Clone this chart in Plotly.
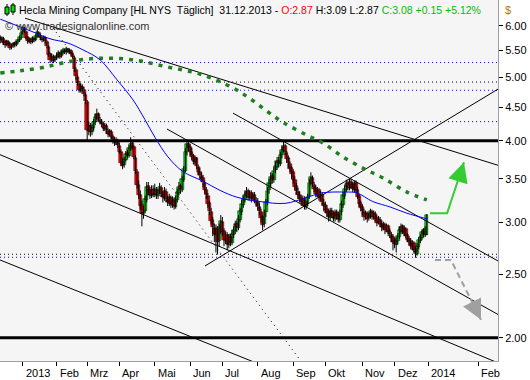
import numpy as np
import pandas as pd
import plotly.graph_objects as go

# ---------------- data ----------------
# daily candles: 11 Dec 2012 .. 31 Dec 2013 (one line per month)
opens = [
 5.75,5.71,5.73,5.66,5.61,5.67,5.63,5.56,5.59,5.64,5.61,5.67,5.71,5.75,
 5.86,5.94,5.87,5.76,5.67,5.71,5.67,5.73,5.71,5.77,5.85,5.79,5.73,5.70,5.75,5.67,5.57,5.43,5.33,5.37,5.31,
 5.36,5.39,5.44,5.39,5.45,5.49,5.46,5.51,5.47,5.49,5.43,5.36,5.14,5.00,4.89,4.77,4.84,4.79,4.70,
 4.58,4.14,4.21,4.13,4.19,4.27,4.34,4.39,4.31,4.27,4.24,4.17,4.21,4.14,4.09,4.13,4.05,4.01,3.97,3.99,
 3.93,3.84,3.71,3.67,3.74,3.83,3.79,3.89,3.97,3.91,3.77,3.58,3.43,3.31,3.19,3.09,3.13,3.25,3.41,3.36,3.29,3.37,
 3.31,3.37,3.29,3.35,3.39,3.31,3.27,3.34,3.25,3.21,3.27,3.19,3.24,3.17,3.25,3.33,3.41,3.37,3.49,3.60,3.84,3.96,
 3.91,3.84,3.79,3.71,3.76,3.65,3.59,3.54,3.51,3.45,3.37,3.29,3.21,3.11,3.03,2.94,2.87,2.93,2.81,2.94,
 3.01,2.91,2.81,2.87,2.77,2.85,2.79,2.87,2.91,2.99,2.94,3.03,3.11,3.19,3.25,3.31,3.35,3.27,3.33,3.26,3.31,3.24,
 3.23,3.17,3.11,3.06,2.98,3.11,3.23,3.36,3.44,3.53,3.49,3.61,3.65,3.73,3.69,3.81,3.87,3.93,3.83,3.76,3.69,3.63,
 3.58,3.49,3.41,3.34,3.31,3.27,3.21,3.26,3.17,3.21,3.29,3.46,3.51,3.43,3.39,3.31,3.36,3.27,3.31,3.21,
 3.19,3.15,3.11,3.05,3.13,3.09,3.04,3.11,3.08,3.03,3.11,3.19,3.29,3.37,3.45,3.39,3.46,3.43,3.37,3.45,3.37,3.29,3.21,
 3.17,3.11,3.07,3.09,3.05,3.07,3.11,3.07,3.09,3.05,3.01,3.03,2.99,2.94,2.97,2.93,2.96,2.91,2.87,2.85,
 2.81,2.77,2.81,2.85,2.91,2.96,2.89,2.93,2.87,2.83,2.81,2.75,2.79,2.73,2.69,2.75,2.81,2.84,2.91,2.87,2.87,
]
highs = [
 5.80,5.78,5.77,5.70,5.71,5.70,5.66,5.62,5.66,5.67,5.69,5.73,5.80,5.88,
 6.00,5.98,5.90,5.79,5.76,5.74,5.78,5.76,5.82,5.92,5.88,5.82,5.76,5.80,5.78,5.70,5.60,5.46,5.44,5.42,5.40,
 5.46,5.50,5.47,5.50,5.55,5.54,5.57,5.55,5.54,5.52,5.46,5.40,5.18,5.05,4.94,4.90,4.88,4.84,4.74,
 4.62,4.28,4.26,4.24,4.32,4.40,4.48,4.42,4.35,4.32,4.28,4.26,4.25,4.18,4.17,4.16,4.09,4.05,4.05,4.03,
 3.98,3.88,3.76,3.78,3.86,3.88,3.94,4.05,4.00,3.94,3.80,3.62,3.48,3.36,3.24,3.18,3.30,3.46,3.46,3.40,3.42,3.42,
 3.44,3.40,3.38,3.45,3.42,3.35,3.40,3.38,3.30,3.32,3.30,3.29,3.28,3.30,3.38,3.46,3.44,3.54,3.66,3.90,4.02,4.00,
 3.96,3.90,3.82,3.80,3.78,3.68,3.64,3.58,3.55,3.48,3.40,3.33,3.24,3.16,3.06,2.99,2.98,2.96,2.99,3.08,
 3.06,2.94,2.90,2.90,2.88,2.88,2.92,2.96,3.02,3.02,3.08,3.16,3.25,3.30,3.36,3.40,3.38,3.36,3.36,3.34,3.34,3.28,
 3.27,3.22,3.15,3.08,3.14,3.26,3.40,3.50,3.58,3.57,3.65,3.72,3.78,3.78,3.85,3.94,4.01,3.96,3.86,3.80,3.72,3.66,
 3.62,3.53,3.45,3.39,3.35,3.31,3.30,3.29,3.24,3.32,3.50,3.58,3.54,3.46,3.42,3.40,3.39,3.35,3.34,3.26,
 3.23,3.19,3.14,3.16,3.16,3.12,3.14,3.14,3.12,3.14,3.24,3.34,3.42,3.49,3.48,3.50,3.50,3.46,3.48,3.48,3.40,3.32,3.24,
 3.20,3.15,3.13,3.12,3.11,3.15,3.14,3.13,3.12,3.08,3.07,3.06,3.02,3.01,3.00,2.99,2.98,2.94,2.90,2.88,
 2.84,2.85,2.89,2.96,2.99,2.98,2.97,2.95,2.89,2.86,2.84,2.82,2.81,2.76,2.79,2.85,2.88,2.93,2.94,2.96,3.09,
]
lows = [
 5.64,5.66,5.61,5.55,5.58,5.58,5.51,5.52,5.55,5.56,5.58,5.63,5.67,5.71,
 5.82,5.84,5.72,5.63,5.64,5.62,5.64,5.66,5.68,5.75,5.76,5.70,5.66,5.67,5.64,5.54,5.38,5.26,5.28,5.26,5.28,
 5.32,5.35,5.34,5.36,5.42,5.43,5.42,5.45,5.44,5.40,5.34,5.10,4.96,4.86,4.74,4.74,4.76,4.68,4.55,
 4.00,4.08,4.06,4.08,4.15,4.23,4.30,4.28,4.24,4.20,4.14,4.14,4.10,4.05,4.06,4.02,3.96,3.93,3.94,3.90,
 3.82,3.66,3.62,3.64,3.72,3.76,3.77,3.86,3.88,3.75,3.56,3.38,3.26,3.14,2.96,3.04,3.10,3.22,3.30,3.26,3.27,3.28,
 3.28,3.26,3.26,3.32,3.28,3.22,3.24,3.22,3.18,3.18,3.16,3.16,3.14,3.15,3.22,3.30,3.32,3.34,3.46,3.58,3.80,3.86,
 3.80,3.74,3.68,3.68,3.62,3.54,3.50,3.46,3.40,3.32,3.26,3.16,3.08,2.98,2.86,2.80,2.70,2.68,2.76,2.88,
 2.86,2.76,2.78,2.72,2.74,2.76,2.77,2.84,2.88,2.90,2.92,3.00,3.08,3.16,3.22,3.27,3.24,3.24,3.22,3.24,3.21,3.17,
 3.13,3.08,3.00,2.92,2.95,3.06,3.19,3.32,3.40,3.44,3.45,3.57,3.61,3.64,3.66,3.76,3.84,3.80,3.70,3.64,3.58,3.50,
 3.44,3.36,3.31,3.26,3.22,3.18,3.18,3.14,3.14,3.18,3.26,3.42,3.40,3.34,3.28,3.28,3.24,3.24,3.19,3.12,
 3.10,3.06,3.01,3.02,3.05,3.01,3.01,3.03,3.00,3.00,3.08,3.16,3.26,3.34,3.36,3.36,3.38,3.34,3.34,3.33,3.26,3.17,3.12,
 3.08,3.02,3.03,3.00,3.02,3.04,3.03,3.03,3.01,2.96,2.98,2.95,2.91,2.92,2.88,2.90,2.86,2.84,2.80,2.72,
 2.74,2.70,2.78,2.83,2.88,2.88,2.86,2.84,2.80,2.77,2.73,2.72,2.69,2.65,2.67,2.73,2.79,2.82,2.85,2.85,2.87,
]
closes = [
 5.70,5.74,5.65,5.60,5.68,5.62,5.55,5.58,5.63,5.60,5.66,5.70,5.76,5.84,
 5.95,5.88,5.75,5.68,5.72,5.66,5.74,5.70,5.78,5.86,5.80,5.74,5.70,5.76,5.68,5.58,5.42,5.32,5.38,5.30,5.35,
 5.40,5.45,5.38,5.46,5.50,5.47,5.52,5.48,5.50,5.44,5.38,5.15,5.02,4.90,4.78,4.85,4.80,4.72,4.60,
 4.15,4.22,4.12,4.20,4.28,4.35,4.40,4.32,4.28,4.25,4.18,4.22,4.15,4.10,4.14,4.06,4.02,3.98,4.00,3.94,
 3.85,3.70,3.66,3.75,3.82,3.80,3.90,3.96,3.92,3.78,3.60,3.42,3.30,3.18,3.10,3.14,3.26,3.40,3.35,3.30,3.36,3.32,
 3.38,3.30,3.34,3.40,3.32,3.28,3.35,3.26,3.22,3.28,3.20,3.25,3.18,3.26,3.34,3.40,3.38,3.50,3.62,3.85,3.95,3.90,
 3.85,3.78,3.72,3.75,3.66,3.58,3.55,3.50,3.46,3.36,3.30,3.20,3.12,3.02,2.95,2.88,2.92,2.80,2.95,3.02,
 2.90,2.82,2.86,2.78,2.84,2.80,2.88,2.92,2.98,2.95,3.04,3.12,3.20,3.26,3.30,3.34,3.28,3.32,3.27,3.30,3.25,3.22,
 3.18,3.12,3.05,2.97,3.10,3.22,3.35,3.45,3.52,3.50,3.60,3.66,3.72,3.70,3.80,3.88,3.92,3.84,3.75,3.70,3.62,3.56,
 3.48,3.40,3.35,3.30,3.26,3.22,3.25,3.18,3.20,3.28,3.45,3.52,3.44,3.38,3.32,3.35,3.28,3.30,3.22,3.18,
 3.14,3.10,3.06,3.12,3.08,3.05,3.10,3.07,3.04,3.10,3.20,3.30,3.38,3.44,3.40,3.45,3.42,3.38,3.44,3.36,3.28,3.20,3.16,
 3.12,3.06,3.10,3.04,3.08,3.12,3.06,3.10,3.04,3.00,3.04,2.98,2.95,2.98,2.92,2.95,2.90,2.88,2.84,2.80,
 2.78,2.82,2.86,2.92,2.95,2.90,2.94,2.86,2.82,2.80,2.76,2.78,2.72,2.70,2.76,2.82,2.85,2.90,2.88,2.93,3.08,
]

# moving averages (bar index, price)
ma200_x = [-14, -1.7, 12.6, 29.3, 48.0, 68.5, 89.6, 110.1, 130.6, 141.2, 151.7, 161.7,
           176.6, 186.5, 198.9, 212.6, 223.8, 238.7, 251]
ma200_p = [5.08, 5.12, 5.18, 5.29, 5.35, 5.32, 5.19, 5.06, 4.82, 4.64, 4.44, 4.27,
           4.08, 3.97, 3.78, 3.62, 3.51, 3.34, 3.25]
ma50_x = [-14, 6.3, 16.9, 27.5, 37.4, 48.0, 58.5, 68.5, 75.9, 82.1, 90.2, 99.5, 112.0,
          122.5, 133.1, 147.4, 162.9, 175.3, 185.9, 200.2, 207.6, 217.5, 228.1, 238.7, 251]
ma50_p = [6.14, 5.87, 5.73, 5.65, 5.51, 5.32, 4.96, 4.62, 4.31, 4.05, 3.78, 3.59, 3.47,
          3.36, 3.28, 3.23, 3.21, 3.27, 3.33, 3.34, 3.33, 3.23, 3.17, 3.10, 3.04]

# trend lines: (x0, p0, x1, p1) in bar index / price
trend_solid = [
    (1.4, 6.16, 295.3, 3.67),
    (130.6, 4.41, 295.3, 2.62),
    (89.6, 4.17, 295.3, 2.17),
    (-14.2, 3.81, 295.3, 1.83),
    (-14.2, 2.63, 147.4, 1.82),
    (113.2, 2.575, 295.3, 4.80),
]
trend_dotted = [(18.8, 5.95, 172.2, 1.85)]

# horizontal levels
levels_thick = [4.00, 2.00]
levels_blue_dot = [5.27, 4.78, 4.28, 2.655]
levels_black_dot = [4.92, 2.683]

# scenario arrows
up_x = [253.0, 263.6, 274.1]
up_p = [3.10, 3.10, 3.71]
down_x = [256.1, 266.0, 284.7]
down_p = [2.63, 2.63, 2.13]

y_ticks = [2.0, 2.5, 3.0, 3.5, 4.0, 4.5, 5.0, 5.5, 6.0]
month_names = ["2013", "Feb", "Mrz", "Apr", "Mai", "Jun", "Jul", "Aug", "Sep", "Okt", "Nov", "Dez"]
future_ticks = [("2014", "2014-01-01"), ("Feb", "2014-02-01")]

# ---------------- dates / positions ----------------
holidays = pd.to_datetime(["2012-12-25", "2013-01-01", "2013-01-21", "2013-02-18", "2013-03-29",
                           "2013-05-27", "2013-07-04", "2013-09-02", "2013-11-28", "2013-12-25"])
days = pd.bdate_range("2012-12-11", "2013-12-31")
days = days[~days.isin(holidays)]
n = len(days)
for name, arr in [("opens", opens), ("highs", highs), ("lows", lows), ("closes", closes)]:
    if len(arr) != n:
        raise SystemExit(f"{name}: {len(arr)} vs {n}")
first2013 = int(np.where(days >= pd.Timestamp("2013-01-01"))[0][0])
idx = np.arange(n) - first2013

o = np.array(opens); h = np.array(highs); l = np.array(lows); c = np.array(closes)
h = np.maximum(h, np.maximum(o, c)); l = np.minimum(l, np.minimum(o, c))

tickvals, ticktext = [], []
for m in range(1, 13):
    k = int(np.where((days.year == 2013) & (days.month == m))[0][0])
    tickvals.append(idx[k]); ticktext.append(month_names[m - 1])
last_i = idx[-1]; last_d = days[-1]
for lab, d in future_ticks:
    tickvals.append(last_i + (pd.Timestamp(d) - last_d).days); ticktext.append(lab)

# ---------------- layout geometry ----------------
W, H = 530, 380
L, R, T, B = 0, 32, 0, 19
PW, PH = W - L - R, H - T - B
X0PX, XSTEP = 22.8, 1.6095            # pixel of first 2013 bar, pixels per bar
xr = [(0 - X0PX) / XSTEP, (PW - X0PX) / XSTEP]
PX6, PXLN = 25.7, 284.0               # pixel of 6.00 and pixels per ln-unit
ptop = 6 * np.exp(PX6 / PXLN)
pbot = 6 * np.exp(-(PH - PX6) / PXLN)
yr = [np.log10(pbot), np.log10(ptop)]

def pxx(x):
    return (x - L) / PW

def pxy(y):
    return 1 - (y - T) / PH

FONT = "Liberation Sans, Arial, sans-serif"
fig = go.Figure()

# horizontal levels
xs_full = [xr[0], xr[1]]
for p in levels_blue_dot:
    fig.add_trace(go.Scatter(x=xs_full, y=[p, p], mode="lines",
                             line=dict(color="#0000ff", width=1, dash="1px,3px"), hoverinfo="skip"))
for p in levels_black_dot:
    fig.add_trace(go.Scatter(x=xs_full, y=[p, p], mode="lines",
                             line=dict(color="#000000", width=1, dash="1px,3px"), hoverinfo="skip"))
for p in levels_thick:
    fig.add_trace(go.Scatter(x=xs_full, y=[p, p], mode="lines",
                             line=dict(color="#000000", width=3), hoverinfo="skip"))

# trend lines
for (x0, p0, x1, p1) in trend_solid:
    fig.add_trace(go.Scatter(x=[x0, x1], y=[p0, p1], mode="lines",
                             line=dict(color="#000000", width=1), hoverinfo="skip"))
for (x0, p0, x1, p1) in trend_dotted:
    fig.add_trace(go.Scatter(x=[x0, x1], y=[p0, p1], mode="lines",
                             line=dict(color="#000000", width=1, dash="1px,4px"), hoverinfo="skip"))

# 200-day MA (green dashed)
fig.add_trace(go.Scatter(x=ma200_x, y=ma200_p, mode="lines", line_shape="spline",
                         line=dict(color="#1f7f1f", width=3.5, dash="4px,6px"), hoverinfo="skip"))

# candles: wicks then bodies
wx, wy = [], []
for i in range(n):
    wx += [idx[i], idx[i], None]; wy += [l[i], h[i], None]
fig.add_trace(go.Scatter(x=wx, y=wy, mode="lines", line=dict(color="#000000", width=1), hoverinfo="skip"))
inc = c >= o
base = np.minimum(o, c)
size = np.maximum(np.abs(c - o), 0.008)
fig.add_trace(go.Bar(x=idx[inc], base=base[inc], y=size[inc], width=2.1,
                     marker=dict(color="#00e000", line=dict(color="#000000", width=0.5))))
fig.add_trace(go.Bar(x=idx[~inc], base=base[~inc], y=size[~inc], width=2.1,
                     marker=dict(color="#ff0000", line=dict(color="#000000", width=0.5))))

# 50-day MA (blue)
fig.add_trace(go.Scatter(x=ma50_x, y=ma50_p, mode="lines", line_shape="spline",
                         line=dict(color="#0000ff", width=1), hoverinfo="skip"))

# scenario arrows
fig.add_trace(go.Scatter(x=up_x, y=up_p, mode="lines", line=dict(color="#33cc33", width=2), hoverinfo="skip"))
fig.add_trace(go.Scatter(x=down_x, y=down_p, mode="lines",
                         line=dict(color="#a0a0a0", width=2, dash="6px,4px"), hoverinfo="skip"))

annotations = [
    dict(x=up_x[-1], y=np.log10(up_p[-1]), xref="x", yref="y", ax=-5, ay=16, showarrow=True,
         arrowhead=2, arrowsize=2, arrowwidth=2, arrowcolor="#33cc33", text=""),
    dict(x=down_x[-1], y=np.log10(down_p[-1]), xref="x", yref="y", ax=-8, ay=-16, showarrow=True,
         arrowhead=2, arrowsize=2, arrowwidth=2, arrowcolor="#a0a0a0", text=""),
]
for tv, tt in zip(tickvals, ticktext):
    annotations.append(dict(x=tv, y=0, xref="x", yref="paper", xanchor="left", yanchor="middle",
                            xshift=1, yshift=-12, showarrow=False, text=tt,
                            font=dict(family=FONT, size=11, color="#000000")))

header = ("Hecla Mining Company [HL NYS\u00a0\u00a0Täglich]\u00a0\u00a031.12.2013 - "
          "<span style='color:#ff0000'>O:2.87</span> H:3.09 L:2.87 "
          "<span style='color:#00c000'>C:3.08 +0.15 +5.12%</span>")
annotations.append(dict(x=pxx(17), y=pxy(10), xref="paper", yref="paper", xanchor="left", yanchor="middle",
                        showarrow=False, text=header, font=dict(family=FONT, size=10.5, color="#000000")))
annotations.append(dict(x=pxx(3), y=pxy(26), xref="paper", yref="paper", xanchor="left", yanchor="middle",
                        showarrow=False, text="© www.tradesignalonline.com",
                        font=dict(family=FONT, size=11, color="#333333")))
annotations.append(dict(x=pxx(503), y=pxy(10), xref="paper", yref="paper", xanchor="left", yanchor="middle",
                        showarrow=False, text="$", font=dict(family=FONT, size=11, color="#b07800")))

shapes = [
    dict(type="line", xref="paper", yref="paper", x0=pxx(7), x1=pxx(7), y0=pxy(4), y1=pxy(16),
         line=dict(color="#000000", width=1)),
    dict(type="rect", xref="paper", yref="paper", x0=pxx(5), x1=pxx(9), y0=pxy(7), y1=pxy(14),
         fillcolor="#00e000", line=dict(color="#000000", width=1)),
    dict(type="line", xref="paper", yref="paper", x0=pxx(13), x1=pxx(13), y0=pxy(3), y1=pxy(15),
         line=dict(color="#000000", width=1)),
    dict(type="rect", xref="paper", yref="paper", x0=pxx(11), x1=pxx(15), y0=pxy(5), y1=pxy(12),
         fillcolor="#00e000", line=dict(color="#000000", width=1)),
]

fig.update_layout(
    width=W, height=H, margin=dict(l=L, r=R, t=T, b=B, pad=0),
    paper_bgcolor="#ffffff", plot_bgcolor="#f5f5f5",
    showlegend=False, barmode="overlay", bargap=0,
    annotations=annotations, shapes=shapes,
    xaxis=dict(range=xr, showgrid=False, zeroline=False, tickvals=tickvals, ticktext=[""] * len(tickvals),
               ticks="outside", ticklen=4, tickcolor="#000000", showline=True, mirror=True,
               linecolor="#a0a0a0", linewidth=1, fixedrange=True),
    yaxis=dict(type="log", range=yr, side="right", showgrid=False, zeroline=False,
               tickvals=y_ticks, ticktext=[f"{v:.2f}" for v in y_ticks],
               ticks="outside", ticklen=4, tickcolor="#000000", showline=True, mirror=True,
               linecolor="#a0a0a0", linewidth=1, tickfont=dict(family=FONT, size=11, color="#000000"),
               fixedrange=True),
)

fig.write_html("out.html")
